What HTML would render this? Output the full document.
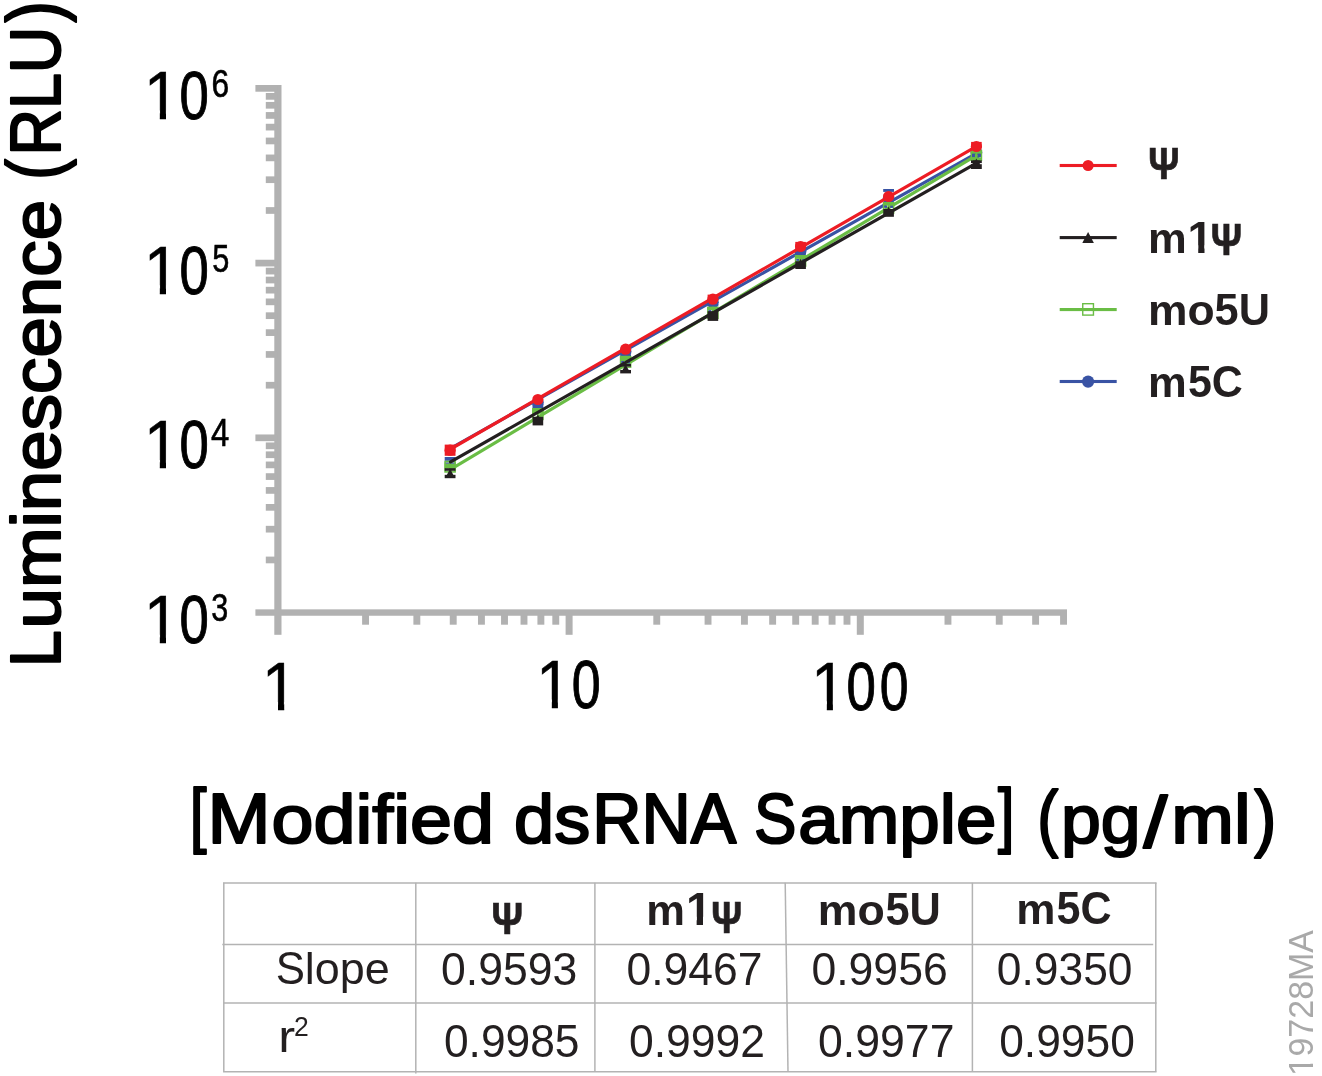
<!DOCTYPE html>
<html lang="en">
<head>
<meta charset="utf-8">
<title>Luminescence vs Modified dsRNA Sample</title>
<style>
html,body{margin:0;padding:0;background:#fff;}
body{width:1322px;height:1076px;overflow:hidden;}
svg{display:block;}
svg text{font-family:"Liberation Sans",Arial,Helvetica,sans-serif;white-space:pre;}
</style>
</head>
<body>
<svg width="1322" height="1076" viewBox="0 0 1322 1076" role="img" aria-label="Luminescence (RLU) versus [Modified dsRNA Sample] (pg/ml) for Ψ, m1Ψ, mo5U and m5C, with slope and r2 table. 19728MA">
<title>Luminescence (RLU) vs [Modified dsRNA Sample] (pg/ml)</title>
<defs>
<clipPath id="c1"><path clip-rule="evenodd" d="M-2000 -2000H4000V4000H-2000ZM146.55 110.54H159.82V121.90H146.55ZM166.00 110.54H178.62V121.90H166.00Z"/></clipPath>
<clipPath id="c2"><path clip-rule="evenodd" d="M-2000 -2000H4000V4000H-2000ZM146.55 285.24H159.82V296.60H146.55ZM166.00 285.24H178.62V296.60H166.00Z"/></clipPath>
<clipPath id="c3"><path clip-rule="evenodd" d="M-2000 -2000H4000V4000H-2000ZM146.55 460.04H159.82V471.40H146.55ZM166.00 460.04H178.62V471.40H166.00Z"/></clipPath>
<clipPath id="c4"><path clip-rule="evenodd" d="M-2000 -2000H4000V4000H-2000ZM146.55 634.74H159.82V646.10H146.55ZM166.00 634.74H178.62V646.10H166.00Z"/></clipPath>
<clipPath id="c5"><path clip-rule="evenodd" d="M-2000 -2000H4000V4000H-2000ZM264.70 702.09H278.00V713.45H264.70ZM284.20 702.09H296.85V713.45H284.20Z"/></clipPath>
<clipPath id="c6"><path clip-rule="evenodd" d="M-2000 -2000H4000V4000H-2000ZM538.78 699.39H551.83V710.75H538.78ZM557.90 699.39H570.32V710.75H557.90Z"/></clipPath>
<clipPath id="c7"><path clip-rule="evenodd" d="M-2000 -2000H4000V4000H-2000ZM813.78 701.29H826.83V712.65H813.78ZM832.90 701.29H845.32V712.65H832.90Z"/></clipPath>
<clipPath id="c8"><path clip-rule="evenodd" d="M-2000 -2000H4000V4000H-2000ZM1188.47 245.27H1198.23V255.90H1188.47ZM1204.50 245.27H1213.69V255.90H1204.50Z"/></clipPath>
<clipPath id="c9"><path clip-rule="evenodd" d="M-2000 -2000H4000V4000H-2000ZM686.77 916.78H696.64V927.50H686.77ZM703.00 916.78H712.29V927.50H703.00Z"/></clipPath>
<clipPath id="c10"><path clip-rule="evenodd" d="M-2000 -2000H4000V4000H-2000ZM-2.73 -5.64H5.72V3.00H-2.73ZM8.90 -5.64H16.98V3.00H8.90Z"/></clipPath>
</defs>
<rect x="0" y="0" width="1322" height="1076" fill="#ffffff"/>
<rect x="274.30" y="85.00" width="7.20" height="549.80" fill="#b1b1b1"/>
<rect x="255.40" y="609.35" width="811.60" height="6.40" fill="#b1b1b1"/>
<rect x="265.80" y="556.60" width="12.10" height="6.70" fill="#b1b1b1"/>
<rect x="265.80" y="525.83" width="12.10" height="6.70" fill="#b1b1b1"/>
<rect x="265.80" y="504.00" width="12.10" height="6.70" fill="#b1b1b1"/>
<rect x="265.80" y="487.07" width="12.10" height="6.70" fill="#b1b1b1"/>
<rect x="265.80" y="473.23" width="12.10" height="6.70" fill="#b1b1b1"/>
<rect x="265.80" y="461.54" width="12.10" height="6.70" fill="#b1b1b1"/>
<rect x="265.80" y="451.40" width="12.10" height="6.70" fill="#b1b1b1"/>
<rect x="265.80" y="442.47" width="12.10" height="6.70" fill="#b1b1b1"/>
<rect x="255.40" y="434.47" width="22.50" height="6.70" fill="#b1b1b1"/>
<rect x="265.80" y="381.87" width="12.10" height="6.70" fill="#b1b1b1"/>
<rect x="265.80" y="351.10" width="12.10" height="6.70" fill="#b1b1b1"/>
<rect x="265.80" y="329.27" width="12.10" height="6.70" fill="#b1b1b1"/>
<rect x="265.80" y="312.34" width="12.10" height="6.70" fill="#b1b1b1"/>
<rect x="265.80" y="298.50" width="12.10" height="6.70" fill="#b1b1b1"/>
<rect x="265.80" y="286.81" width="12.10" height="6.70" fill="#b1b1b1"/>
<rect x="265.80" y="276.67" width="12.10" height="6.70" fill="#b1b1b1"/>
<rect x="265.80" y="267.74" width="12.10" height="6.70" fill="#b1b1b1"/>
<rect x="255.40" y="259.74" width="22.50" height="6.70" fill="#b1b1b1"/>
<rect x="265.80" y="207.14" width="12.10" height="6.70" fill="#b1b1b1"/>
<rect x="265.80" y="176.37" width="12.10" height="6.70" fill="#b1b1b1"/>
<rect x="265.80" y="154.54" width="12.10" height="6.70" fill="#b1b1b1"/>
<rect x="265.80" y="137.61" width="12.10" height="6.70" fill="#b1b1b1"/>
<rect x="265.80" y="123.77" width="12.10" height="6.70" fill="#b1b1b1"/>
<rect x="265.80" y="112.08" width="12.10" height="6.70" fill="#b1b1b1"/>
<rect x="265.80" y="101.94" width="12.10" height="6.70" fill="#b1b1b1"/>
<rect x="265.80" y="93.01" width="12.10" height="6.70" fill="#b1b1b1"/>
<rect x="255.40" y="85.01" width="22.50" height="6.70" fill="#b1b1b1"/>
<rect x="362.11" y="612.55" width="6.90" height="12.15" fill="#b1b1b1"/>
<rect x="413.39" y="612.55" width="6.90" height="12.15" fill="#b1b1b1"/>
<rect x="449.77" y="612.55" width="6.90" height="12.15" fill="#b1b1b1"/>
<rect x="477.99" y="612.55" width="6.90" height="12.15" fill="#b1b1b1"/>
<rect x="501.05" y="612.55" width="6.90" height="12.15" fill="#b1b1b1"/>
<rect x="520.54" y="612.55" width="6.90" height="12.15" fill="#b1b1b1"/>
<rect x="537.43" y="612.55" width="6.90" height="12.15" fill="#b1b1b1"/>
<rect x="552.33" y="612.55" width="6.90" height="12.15" fill="#b1b1b1"/>
<rect x="565.60" y="612.55" width="7.00" height="22.25" fill="#b1b1b1"/>
<rect x="653.31" y="612.55" width="6.90" height="12.15" fill="#b1b1b1"/>
<rect x="704.59" y="612.55" width="6.90" height="12.15" fill="#b1b1b1"/>
<rect x="740.97" y="612.55" width="6.90" height="12.15" fill="#b1b1b1"/>
<rect x="769.19" y="612.55" width="6.90" height="12.15" fill="#b1b1b1"/>
<rect x="792.25" y="612.55" width="6.90" height="12.15" fill="#b1b1b1"/>
<rect x="811.74" y="612.55" width="6.90" height="12.15" fill="#b1b1b1"/>
<rect x="828.63" y="612.55" width="6.90" height="12.15" fill="#b1b1b1"/>
<rect x="843.53" y="612.55" width="6.90" height="12.15" fill="#b1b1b1"/>
<rect x="856.80" y="612.55" width="7.00" height="22.25" fill="#b1b1b1"/>
<rect x="944.51" y="612.55" width="6.90" height="12.15" fill="#b1b1b1"/>
<rect x="995.79" y="612.55" width="6.90" height="12.15" fill="#b1b1b1"/>
<rect x="1032.17" y="612.55" width="6.90" height="12.15" fill="#b1b1b1"/>
<rect x="1060.10" y="612.55" width="6.90" height="12.15" fill="#b1b1b1"/>
<text font-size="68.15" fill="#000000" clip-path="url(#c1)" aria-label="106"><tspan x="143.68" y="118.90" stroke="#000000" stroke-width="0.5" textLength="36.09" lengthAdjust="spacingAndGlyphs">1</tspan><tspan x="179.54" y="118.97" font-size="68.34" stroke="#000000" stroke-width="1.0" textLength="29.29" lengthAdjust="spacingAndGlyphs">0</tspan><tspan x="211.61" y="96.96" font-size="39.08" stroke="#000000" stroke-width="0.6" textLength="17.68" lengthAdjust="spacingAndGlyphs">6</tspan></text>
<text font-size="68.15" fill="#000000" clip-path="url(#c2)" aria-label="105"><tspan x="143.68" y="293.60" stroke="#000000" stroke-width="0.5" textLength="36.09" lengthAdjust="spacingAndGlyphs">1</tspan><tspan x="179.54" y="293.67" font-size="68.34" stroke="#000000" stroke-width="1.0" textLength="29.29" lengthAdjust="spacingAndGlyphs">0</tspan><tspan x="212.17" y="271.70" font-size="39.71" stroke="#000000" stroke-width="0.6" textLength="17.09" lengthAdjust="spacingAndGlyphs">5</tspan></text>
<text font-size="68.15" fill="#000000" clip-path="url(#c3)" aria-label="104"><tspan x="143.68" y="468.40" stroke="#000000" stroke-width="0.5" textLength="36.09" lengthAdjust="spacingAndGlyphs">1</tspan><tspan x="179.54" y="468.47" font-size="68.34" stroke="#000000" stroke-width="1.0" textLength="29.29" lengthAdjust="spacingAndGlyphs">0</tspan><tspan x="211.06" y="446.30" font-size="39.13" stroke="#000000" stroke-width="0.6" textLength="18.28" lengthAdjust="spacingAndGlyphs">4</tspan></text>
<text font-size="68.15" fill="#000000" clip-path="url(#c4)" aria-label="103"><tspan x="143.68" y="643.10" stroke="#000000" stroke-width="0.5" textLength="36.09" lengthAdjust="spacingAndGlyphs">1</tspan><tspan x="179.54" y="643.17" font-size="68.34" stroke="#000000" stroke-width="1.0" textLength="29.29" lengthAdjust="spacingAndGlyphs">0</tspan><tspan x="211.26" y="621.10" font-size="39.58" stroke="#000000" stroke-width="0.6" textLength="16.98" lengthAdjust="spacingAndGlyphs">3</tspan></text>
<text font-size="68.15" fill="#000000" clip-path="url(#c5)" aria-label="1"><tspan x="261.82" y="710.45" stroke="#000000" stroke-width="0.5" textLength="36.21" lengthAdjust="spacingAndGlyphs">1</tspan></text>
<text font-size="68.15" fill="#000000" clip-path="url(#c6)" aria-label="10"><tspan x="536.00" y="707.75" stroke="#000000" stroke-width="0.5" textLength="35.41" lengthAdjust="spacingAndGlyphs">1</tspan><tspan x="571.82" y="707.82" font-size="68.34" stroke="#000000" stroke-width="1.0" textLength="28.89" lengthAdjust="spacingAndGlyphs">0</tspan></text>
<text font-size="68.15" fill="#000000" clip-path="url(#c7)" aria-label="100"><tspan x="811.00" y="709.65" stroke="#000000" stroke-width="0.5" textLength="35.41" lengthAdjust="spacingAndGlyphs">1</tspan><tspan x="846.39" y="709.72" font-size="68.34" stroke="#000000" stroke-width="1.0" textLength="29.35" lengthAdjust="spacingAndGlyphs">0</tspan><tspan x="879.73" y="709.72" font-size="68.34" stroke="#000000" stroke-width="1.0" textLength="28.77" lengthAdjust="spacingAndGlyphs">0</tspan></text>
<text font-size="68.50" fill="#000000" stroke="#000000" stroke-width="2.1" stroke-linejoin="round" aria-label="[Modified dsRNA Sample] (pg/ml)"><tspan x="189.78" y="839.45" font-size="72.28" textLength="16.74" lengthAdjust="spacingAndGlyphs">[</tspan><tspan x="207.61" y="843.25" font-size="70.55" textLength="63.02" lengthAdjust="spacingAndGlyphs">M</tspan><tspan x="271.64" y="843.25" textLength="243.46" lengthAdjust="spacingAndGlyphs">odified </tspan><tspan x="514.09" y="843.25" textLength="76.07" lengthAdjust="spacingAndGlyphs">ds</tspan><tspan x="592.15" y="843.25" font-size="70.55" textLength="159.33" lengthAdjust="spacingAndGlyphs">RNA </tspan><tspan x="754.09" y="843.25" font-size="70.55" textLength="42.46" lengthAdjust="spacingAndGlyphs">S</tspan><tspan x="798.36" y="843.25" textLength="197.97" lengthAdjust="spacingAndGlyphs">ample</tspan><tspan x="998.01" y="839.45" font-size="72.28" textLength="16.39" lengthAdjust="spacingAndGlyphs">]</tspan><tspan x="1015.00" y="843.25"> </tspan><tspan x="1037.20" y="843.18" font-size="74.53" textLength="21.06" lengthAdjust="spacingAndGlyphs">(</tspan><tspan x="1060.90" y="843.25" textLength="79.59" lengthAdjust="spacingAndGlyphs">pg</tspan><tspan x="1143.45" y="846.73" font-size="71.84" textLength="23.83" lengthAdjust="spacingAndGlyphs">/</tspan><tspan x="1171.27" y="843.25" textLength="79.37" lengthAdjust="spacingAndGlyphs">ml</tspan><tspan x="1254.15" y="843.18" font-size="74.53" textLength="22.07" lengthAdjust="spacingAndGlyphs">)</tspan></text>
<text transform="translate(60.9,662.7) rotate(-90)" font-size="68.50" fill="#000000" stroke="#000000" stroke-width="2.1" stroke-linejoin="round" aria-label="Luminescence (RLU)"><tspan x="-4.44" y="-1.05" font-size="70.55" textLength="37.04" lengthAdjust="spacingAndGlyphs">L</tspan><tspan x="34.12" y="-1.05" textLength="449.02" lengthAdjust="spacingAndGlyphs">uminescence </tspan><tspan x="482.87" y="-1.30" font-size="75.44" textLength="20.68" lengthAdjust="spacingAndGlyphs">(</tspan><tspan x="507.13" y="-1.05" font-size="70.55" textLength="128.95" lengthAdjust="spacingAndGlyphs">RLU</tspan><tspan x="640.17" y="-1.30" font-size="75.44" textLength="21.19" lengthAdjust="spacingAndGlyphs">)</tspan></text>
<line x1="450.6" y1="448.32" x2="976.0" y2="153.55" stroke="#3953a4" stroke-width="3.2" stroke-linecap="round"/>
<rect x="444.70" y="457.00" width="10.80" height="3.80" fill="#3953a4"/>
<rect x="444.70" y="462.40" width="10.80" height="1.40" fill="#3953a4"/>
<circle cx="537.90" cy="402.60" r="5.9" fill="#3953a4"/>
<rect x="532.50" y="404.00" width="10.80" height="4.00" fill="#3953a4"/>
<circle cx="625.60" cy="351.50" r="5.9" fill="#3953a4"/>
<rect x="620.20" y="354.40" width="10.80" height="1.80" fill="#3953a4"/>
<circle cx="712.90" cy="302.30" r="5.9" fill="#3953a4"/>
<rect x="707.50" y="303.80" width="10.80" height="2.60" fill="#3953a4"/>
<circle cx="800.60" cy="251.00" r="5.9" fill="#3953a4"/>
<rect x="795.20" y="251.50" width="10.80" height="3.30" fill="#3953a4"/>
<circle cx="888.60" cy="198.50" r="5.9" fill="#3953a4"/>
<rect x="883.20" y="189.00" width="10.80" height="2.90" fill="#3953a4"/>
<circle cx="976.40" cy="152.50" r="5.9" fill="#3953a4"/>
<line x1="450.6" y1="469.40" x2="976.0" y2="155.53" stroke="#6abd45" stroke-width="3.2" stroke-linecap="round"/>
<rect x="445.10" y="461.50" width="10.00" height="10.40" fill="none" stroke="#6abd45" stroke-width="1.6"/>
<rect x="444.60" y="463.80" width="11.00" height="4.80" fill="#6abd45"/>
<rect x="449.20" y="460.70" width="1.80" height="12.00" fill="#6abd45"/>
<rect x="532.90" y="408.80" width="10.00" height="10.60" fill="none" stroke="#6abd45" stroke-width="1.6"/>
<rect x="532.40" y="408.00" width="11.00" height="5.80" fill="#6abd45"/>
<rect x="537.00" y="408.00" width="1.80" height="12.20" fill="#6abd45"/>
<rect x="620.60" y="356.70" width="10.00" height="10.40" fill="none" stroke="#6abd45" stroke-width="1.6"/>
<rect x="620.10" y="355.90" width="11.00" height="5.10" fill="#6abd45"/>
<rect x="624.70" y="355.90" width="1.80" height="12.00" fill="#6abd45"/>
<rect x="707.90" y="307.60" width="10.00" height="10.60" fill="none" stroke="#6abd45" stroke-width="1.6"/>
<rect x="707.40" y="306.80" width="11.00" height="3.20" fill="#6abd45"/>
<rect x="712.00" y="306.80" width="1.80" height="12.20" fill="#6abd45"/>
<rect x="795.60" y="255.90" width="10.00" height="10.10" fill="none" stroke="#6abd45" stroke-width="1.6"/>
<rect x="795.10" y="255.10" width="11.00" height="3.80" fill="#6abd45"/>
<rect x="799.70" y="255.10" width="1.80" height="11.70" fill="#6abd45"/>
<rect x="883.60" y="202.80" width="10.00" height="10.20" fill="none" stroke="#6abd45" stroke-width="1.6"/>
<rect x="883.10" y="202.00" width="11.00" height="3.60" fill="#6abd45"/>
<rect x="887.70" y="202.00" width="1.80" height="11.80" fill="#6abd45"/>
<rect x="971.40" y="150.60" width="10.00" height="9.60" fill="none" stroke="#6abd45" stroke-width="1.6"/>
<rect x="970.90" y="149.80" width="11.00" height="3.80" fill="#6abd45"/>
<rect x="970.90" y="157.40" width="11.00" height="2.80" fill="#6abd45"/>
<rect x="975.50" y="149.80" width="1.80" height="11.20" fill="#6abd45"/>
<rect x="621.20" y="361.00" width="2.90" height="2.40" fill="#3953a4"/>
<rect x="627.20" y="361.00" width="2.80" height="2.40" fill="#3953a4"/>
<rect x="708.50" y="310.10" width="2.90" height="2.00" fill="#3953a4"/>
<rect x="796.20" y="259.00" width="2.90" height="1.80" fill="#3953a4"/>
<rect x="802.20" y="259.00" width="2.80" height="1.80" fill="#3953a4"/>
<rect x="884.20" y="205.70" width="2.90" height="2.20" fill="#3953a4"/>
<rect x="890.20" y="205.70" width="2.80" height="2.20" fill="#3953a4"/>
<rect x="972.00" y="154.00" width="2.90" height="3.10" fill="#3953a4"/>
<rect x="978.00" y="154.00" width="2.80" height="3.10" fill="#3953a4"/>
<line x1="450.6" y1="461.87" x2="976.0" y2="163.41" stroke="#231f20" stroke-width="3.2" stroke-linecap="round"/>
<rect x="444.70" y="468.20" width="10.80" height="2.60" fill="#231f20"/>
<rect x="444.70" y="474.80" width="10.80" height="3.40" fill="#231f20"/>
<polygon points="445.35,477.70 454.85,477.70 450.10,468.70" fill="#231f20"/>
<rect x="532.60" y="416.80" width="10.60" height="8.60" fill="#231f20"/>
<polygon points="535.40,419.80 540.40,419.80 537.90,414.60" fill="#231f20"/>
<rect x="620.20" y="364.00" width="10.80" height="2.60" fill="#231f20"/>
<rect x="620.20" y="370.00" width="10.80" height="3.40" fill="#231f20"/>
<polygon points="620.85,372.90 630.35,372.90 625.60,364.50" fill="#231f20"/>
<rect x="707.60" y="311.20" width="10.60" height="9.70" fill="#231f20"/>
<rect x="795.30" y="261.30" width="10.60" height="7.70" fill="#231f20"/>
<polygon points="798.10,264.30 803.10,264.30 800.60,258.80" fill="#231f20"/>
<rect x="883.30" y="209.00" width="10.60" height="7.80" fill="#231f20"/>
<polygon points="886.10,212.00 891.10,212.00 888.60,206.40" fill="#231f20"/>
<rect x="971.00" y="160.40" width="10.80" height="2.70" fill="#231f20"/>
<rect x="971.00" y="164.20" width="10.80" height="4.80" fill="#231f20"/>
<rect x="973.00" y="160.40" width="6.80" height="8.60" fill="#231f20"/>
<polygon points="973.90,163.40 978.90,163.40 976.40,158.60" fill="#231f20"/>
<line x1="450.6" y1="449.01" x2="976.0" y2="146.59" stroke="#ed1c24" stroke-width="3.2" stroke-linecap="round"/>
<circle cx="450.10" cy="450.20" r="5.6" fill="#ed1c24"/>
<rect x="444.70" y="444.60" width="10.80" height="11.20" fill="#ed1c24"/>
<circle cx="537.90" cy="399.50" r="5.6" fill="#ed1c24"/>
<circle cx="625.60" cy="349.20" r="5.6" fill="#ed1c24"/>
<circle cx="712.90" cy="299.20" r="5.6" fill="#ed1c24"/>
<rect x="707.60" y="294.60" width="10.60" height="6.10" fill="#ed1c24"/>
<circle cx="800.60" cy="246.50" r="5.6" fill="#ed1c24"/>
<rect x="795.30" y="241.90" width="10.60" height="6.10" fill="#ed1c24"/>
<circle cx="888.60" cy="196.50" r="5.6" fill="#ed1c24"/>
<circle cx="976.40" cy="146.50" r="5.6" fill="#ed1c24"/>
<rect x="971.10" y="141.90" width="10.60" height="6.10" fill="#ed1c24"/>
<rect x="1059.70" y="163.95" width="57.00" height="3.10" fill="#ed1c24"/>
<circle cx="1088.10" cy="165.50" r="5.5" fill="#ed1c24"/>
<rect x="1059.70" y="236.05" width="57.00" height="3.10" fill="#231f20"/>
<polygon points="1082.30,243.00 1093.90,243.00 1088.10,232.10" fill="#231f20"/>
<rect x="1059.70" y="308.00" width="57.00" height="3.10" fill="#6abd45"/>
<rect x="1082.75" y="303.70" width="10.70" height="11.40" fill="none" stroke="#6abd45" stroke-width="1.4"/>
<rect x="1059.70" y="379.95" width="57.00" height="3.10" fill="#3953a4"/>
<circle cx="1088.10" cy="381.60" r="6.05" fill="#3953a4"/>
<text font-size="45.20" font-weight="bold" fill="#231f20" aria-label="Ψ"><tspan x="1148.32" y="179.05" font-size="45.24" stroke="#231f20" stroke-width="0.7" textLength="31.23" lengthAdjust="spacingAndGlyphs">Ψ</tspan></text>
<text font-size="45.20" font-weight="bold" fill="#231f20" clip-path="url(#c8)" aria-label="m1Ψ"><tspan x="1147.97" y="252.90" font-size="43.00" textLength="38.72" lengthAdjust="spacingAndGlyphs">m</tspan><tspan x="1187.62" y="252.90" textLength="25.37" lengthAdjust="spacingAndGlyphs">1</tspan><tspan x="1210.71" y="254.75" font-size="44.65" stroke="#231f20" stroke-width="0.7" textLength="31.35" lengthAdjust="spacingAndGlyphs">Ψ</tspan></text>
<text font-size="45.20" font-weight="bold" fill="#231f20" aria-label="mo5U"><tspan x="1147.91" y="324.80" font-size="43.00" textLength="66.66" lengthAdjust="spacingAndGlyphs">mo</tspan><tspan x="1214.60" y="324.80" textLength="55.34" lengthAdjust="spacingAndGlyphs">5U</tspan></text>
<text font-size="45.20" font-weight="bold" fill="#231f20" aria-label="m5C"><tspan x="1147.97" y="396.90" font-size="43.00" textLength="38.72" lengthAdjust="spacingAndGlyphs">m</tspan><tspan x="1187.91" y="396.90" textLength="54.91" lengthAdjust="spacingAndGlyphs">5C</tspan></text>
<line x1="223.05" y1="883.00" x2="1156.55" y2="883.00" stroke="#b3b3b3" stroke-width="1.5"/>
<line x1="222.30" y1="944.50" x2="1153.20" y2="944.50" stroke="#b3b3b3" stroke-width="1.5"/>
<line x1="223.05" y1="1003.00" x2="1156.55" y2="1003.00" stroke="#b3b3b3" stroke-width="1.5"/>
<line x1="223.05" y1="1071.80" x2="1156.55" y2="1071.80" stroke="#b3b3b3" stroke-width="1.5"/>
<line x1="223.80" y1="882.80" x2="223.80" y2="1071.60" stroke="#b3b3b3" stroke-width="1.5"/>
<line x1="415.80" y1="882.80" x2="415.80" y2="1073.60" stroke="#b3b3b3" stroke-width="1.5"/>
<line x1="594.90" y1="882.80" x2="594.90" y2="1071.60" stroke="#b3b3b3" stroke-width="1.5"/>
<line x1="785.20" y1="882.80" x2="788.00" y2="1071.60" stroke="#b3b3b3" stroke-width="1.5"/>
<line x1="972.40" y1="882.80" x2="972.40" y2="1071.60" stroke="#b3b3b3" stroke-width="1.5"/>
<line x1="1155.80" y1="882.80" x2="1155.80" y2="1071.60" stroke="#b3b3b3" stroke-width="1.5"/>
<text font-size="46.00" font-weight="bold" fill="#231f20" aria-label="Ψ"><tspan x="491.60" y="933.65" font-size="44.80" stroke="#231f20" stroke-width="0.7" textLength="31.57" lengthAdjust="spacingAndGlyphs">Ψ</tspan></text>
<text font-size="46.00" font-weight="bold" fill="#231f20" clip-path="url(#c9)" aria-label="m1Ψ"><tspan x="646.37" y="924.50" font-size="43.40" textLength="38.72" lengthAdjust="spacingAndGlyphs">m</tspan><tspan x="685.88" y="924.50" textLength="25.74" lengthAdjust="spacingAndGlyphs">1</tspan><tspan x="711.24" y="932.95" font-size="45.24" stroke="#231f20" stroke-width="0.7" textLength="30.89" lengthAdjust="spacingAndGlyphs">Ψ</tspan></text>
<text font-size="46.00" font-weight="bold" fill="#231f20" aria-label="mo5U"><tspan x="817.80" y="924.50" font-size="43.40" textLength="66.98" lengthAdjust="spacingAndGlyphs">mo</tspan><tspan x="885.50" y="924.50" textLength="55.45" lengthAdjust="spacingAndGlyphs">5U</tspan></text>
<text font-size="46.00" font-weight="bold" fill="#231f20" aria-label="m5C"><tspan x="1016.34" y="924.10" font-size="43.40" textLength="39.18" lengthAdjust="spacingAndGlyphs">m</tspan><tspan x="1056.51" y="924.10" textLength="55.01" lengthAdjust="spacingAndGlyphs">5C</tspan></text>
<text font-size="43.50" fill="#231f20" aria-label="Slope"><tspan x="275.63" y="983.70" font-size="46.00" textLength="29.23" lengthAdjust="spacingAndGlyphs">S</tspan><tspan x="304.77" y="983.70" textLength="84.87" lengthAdjust="spacingAndGlyphs">lope</tspan></text>
<text font-size="43.80" fill="#231f20" aria-label="r2"><tspan x="278.27" y="1051.50" textLength="16.92" lengthAdjust="spacingAndGlyphs">r</tspan><tspan x="293.97" y="1035.70" font-size="27.67" textLength="14.79" lengthAdjust="spacingAndGlyphs">2</tspan></text>
<text font-size="46.20" fill="#231f20" aria-label="0.9593"><tspan x="441.12" y="984.90" textLength="136.13" lengthAdjust="spacingAndGlyphs">0.9593</tspan></text>
<text font-size="46.20" fill="#231f20" aria-label="0.9467"><tspan x="626.52" y="984.90" textLength="136.06" lengthAdjust="spacingAndGlyphs">0.9467</tspan></text>
<text font-size="46.20" fill="#231f20" aria-label="0.9956"><tspan x="811.42" y="984.90" textLength="136.33" lengthAdjust="spacingAndGlyphs">0.9956</tspan></text>
<text font-size="46.20" fill="#231f20" aria-label="0.9350"><tspan x="996.83" y="984.90" textLength="135.69" lengthAdjust="spacingAndGlyphs">0.9350</tspan></text>
<text font-size="46.20" fill="#231f20" aria-label="0.9985"><tspan x="443.93" y="1056.90" textLength="135.60" lengthAdjust="spacingAndGlyphs">0.9985</tspan></text>
<text font-size="46.20" fill="#231f20" aria-label="0.9992"><tspan x="628.92" y="1056.90" textLength="136.06" lengthAdjust="spacingAndGlyphs">0.9992</tspan></text>
<text font-size="46.20" fill="#231f20" aria-label="0.9977"><tspan x="818.02" y="1056.90" textLength="136.47" lengthAdjust="spacingAndGlyphs">0.9977</tspan></text>
<text font-size="46.20" fill="#231f20" aria-label="0.9950"><tspan x="999.23" y="1056.90" textLength="135.59" lengthAdjust="spacingAndGlyphs">0.9950</tspan></text>
<text transform="translate(1313.2,1072.7) rotate(-90)" font-size="35.20" fill="#a9a9a9" clip-path="url(#c10)" aria-label="19728MA"><tspan x="-3.45" y="0.00" textLength="20.20" lengthAdjust="spacingAndGlyphs">1</tspan><tspan x="16.19" y="0.00" textLength="126.49" lengthAdjust="spacingAndGlyphs">9728MA</tspan></text>
</svg>
</body>
</html>
